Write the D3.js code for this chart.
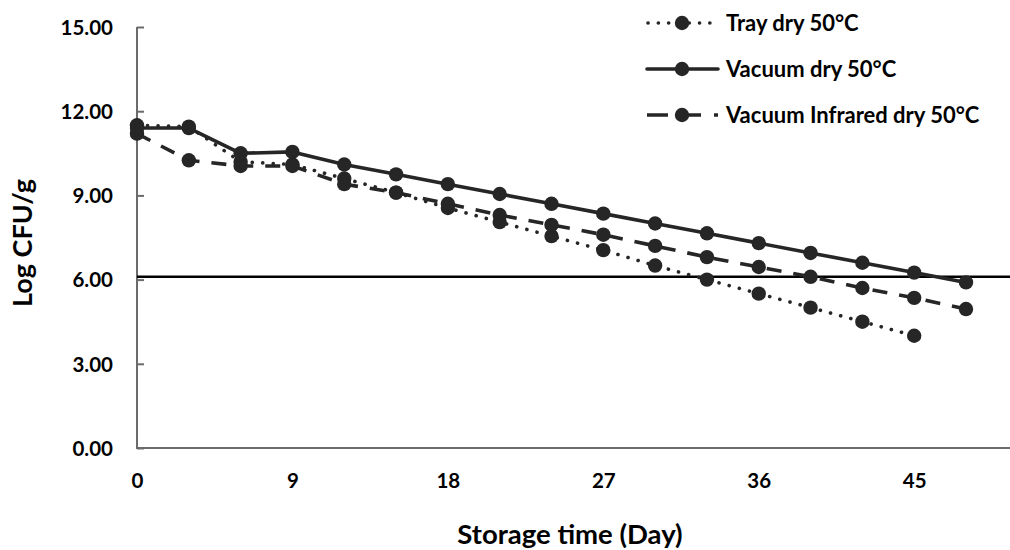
<!DOCTYPE html>
<html>
<head>
<meta charset="utf-8">
<script src="https://cdn.jsdelivr.net/npm/d3@7"></script>
<style>
  html, body { margin: 0; padding: 0; background: #ffffff; }
  svg { display: block; font-family: Lato, "Open Sans", sans-serif; font-weight: 700; }
</style>
</head>
<body>
<svg id="chart" width="1010" height="550"></svg>
<script>
// Storage days sampled every 3 days
const days = [0, 3, 6, 9, 12, 15, 18, 21, 24, 27, 30, 33, 36, 39, 42, 45, 48];

// Log CFU/g for each drying method
const trayDry = [11.5, 11.45, 10.2, 10.1, 9.6, 9.1, 8.55, 8.05, 7.55, 7.05, 6.5, 6.0, 5.5, 5.0, 4.5, 4.0];
const vacuumDry = [11.4, 11.4, 10.5, 10.55, 10.1, 9.75, 9.4, 9.05, 8.7, 8.35, 8.0, 7.65, 7.3, 6.95, 6.6, 6.25, 5.9];
const vacuumInfraredDry = [11.2, 10.25, 10.05, 10.05, 9.4, 9.1, 8.7, 8.3, 7.95, 7.6, 7.2, 6.8, 6.45, 6.1, 5.7, 5.35, 4.95];

const seriesNames = ["Tray dry 50°C", "Vacuum dry 50°C", "Vacuum Infrared dry 50°C"];
const seriesValues = [trayDry, vacuumDry, vacuumInfraredDry];

// Minimum viable count reference level
const thresholdLevel = 6.1;

const xTickValues = [0, 9, 18, 27, 36, 45];
const yTickValues = [0, 3, 6, 9, 12, 15];

const xTitle = "Storage time (Day)";
const yTitle = "Log CFU/g";

// ---- layout & styles ----
const ink = "#262626";
const axisGray = "#6b6b6b";
const dashStyles = ["0.1 10.4", null, "15 12"];

const svg = d3.select("#chart");

const x = d3.scaleLinear().domain([0, 48]).range([137, 966]);
const y = d3.scaleLinear().domain([0, 15]).range([448, 27]);
const plotRight = 1010;

// Y axis with inward ticks
const yAxis = d3.axisRight(y)
  .tickValues(yTickValues)
  .tickSize(7)
  .tickFormat(d3.format(".2f"));
const gy = svg.append("g").attr("transform", `translate(${x(0)},0)`).call(yAxis);
gy.select(".domain").remove();
gy.selectAll(".tick line").attr("stroke", axisGray).attr("stroke-width", 2);
gy.selectAll(".tick text")
  .attr("x", -24)
  .attr("dy", "0.36em")
  .attr("text-anchor", "end")
  .attr("fill", "#000")
  .style("font-size", "20.5px")
  .style("font-family", "Lato, sans-serif")
  .style("font-weight", 700);
svg.append("line")
  .attr("x1", x(0)).attr("x2", x(0))
  .attr("y1", y(15)).attr("y2", y(0))
  .attr("stroke", axisGray).attr("stroke-width", 2);

// X axis without tick marks
const xAxis = d3.axisBottom(x)
  .tickValues(xTickValues)
  .tickSize(0)
  .tickPadding(25)
  .tickFormat(d3.format("d"));
const gx = svg.append("g").attr("transform", `translate(0,${y(0)})`).call(xAxis);
gx.select(".domain").remove();
gx.selectAll(".tick text")
  .attr("fill", "#000")
  .style("font-size", "20.5px")
  .style("font-family", "Lato, sans-serif")
  .style("font-weight", 700);
svg.append("line")
  .attr("x1", x(0) - 1).attr("x2", plotRight)
  .attr("y1", y(0)).attr("y2", y(0))
  .attr("stroke", axisGray).attr("stroke-width", 2);

// Reference level line
svg.append("line")
  .attr("x1", x(0)).attr("x2", plotRight)
  .attr("y1", y(thresholdLevel)).attr("y2", y(thresholdLevel))
  .attr("stroke", "#000").attr("stroke-width", 2.5);

// Series lines and markers
const line = d3.line().x(d => x(d[0])).y(d => y(d[1]));
seriesValues.forEach((vals, i) => {
  const pts = vals.map((v, k) => [days[k], v]);
  const g = svg.append("g");
  const path = g.append("path")
    .attr("d", line(pts))
    .attr("fill", "none")
    .attr("stroke", ink)
    .attr("stroke-width", 3.6)
    .attr("stroke-linecap", "round")
    .attr("stroke-linejoin", "round");
  if (dashStyles[i]) path.attr("stroke-dasharray", dashStyles[i]);
  if (i === 2) path.attr("stroke-linecap", "butt");
  g.selectAll("circle").data(pts).join("circle")
    .attr("cx", d => x(d[0]))
    .attr("cy", d => y(d[1]))
    .attr("r", 7.2)
    .attr("fill", ink);
});

// Axis titles
svg.append("text")
  .attr("x", 570).attr("y", 544)
  .attr("text-anchor", "middle")
  .attr("fill", "#000")
  .style("font-size", "27.5px")
  .text(xTitle);
svg.append("text")
  .attr("transform", "translate(32,243) rotate(-90)")
  .attr("text-anchor", "middle")
  .attr("fill", "#000")
  .style("font-size", "27px")
  .text(yTitle);

// Legend
const legendY = [23, 69, 115];
const legend = svg.append("g");
seriesNames.forEach((name, i) => {
  const row = legend.append("g").attr("transform", `translate(0,${legendY[i]})`);
  const seg = row.append("line")
    .attr("x1", i === 0 ? 648 : 647).attr("x2", 718)
    .attr("y1", 0).attr("y2", 0)
    .attr("stroke", ink)
    .attr("stroke-width", 3.6)
    .attr("stroke-linecap", i === 2 ? "butt" : "round");
  if (i === 0) seg.attr("stroke-dasharray", "0.1 10.2");
  if (i === 2) seg.attr("stroke-dasharray", "21 13 20 13 4");
  row.append("circle").attr("cx", 682).attr("cy", 0).attr("r", 7.2).attr("fill", ink);
  row.append("text")
    .attr("x", 726).attr("y", 7.5)
    .attr("fill", "#000")
    .style("font-size", "22px")
    .text(name);
});
</script>
</body>
</html>
